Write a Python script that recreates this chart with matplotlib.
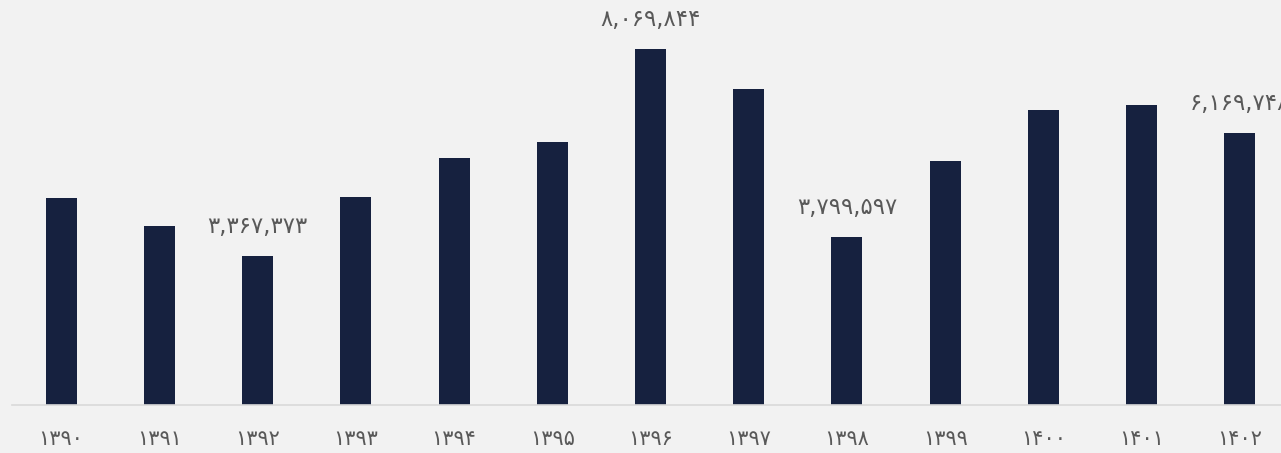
import matplotlib
matplotlib.use("Agg")
import matplotlib.pyplot as plt

years = ["۱۳۹۰", "۱۳۹۱", "۱۳۹۲", "۱۳۹۳", "۱۳۹۴", "۱۳۹۵", "۱۳۹۶",
         "۱۳۹۷", "۱۳۹۸", "۱۳۹۹", "۱۴۰۰", "۱۴۰۱", "۱۴۰۲"]
values = [4692000, 4058000, 3367373, 4715000, 5599000, 5962000, 8069844,
          7163000, 3799597, 5531000, 6687000, 6800000, 6169748]
labeled = [2, 6, 8, 12]

fa_digits = str.maketrans("0123456789", "۰۱۲۳۴۵۶۷۸۹")
def fa(n):
    return f"{n:,}".translate(fa_digits)

bg = "#F2F2F2"
bar_color = "#16213F"
text_color = "#595959"

fig = plt.figure(figsize=(12.81, 4.53), dpi=100, facecolor=bg)
ax = fig.add_axes([12/1281, 48/453, 1277/1281, 405/453])
ax.set_facecolor(bg)
x = list(range(len(years)))
ax.bar(x, values, width=0.315, color=bar_color, zorder=2)
ax.set_xlim(-0.5, len(years) - 0.5)
ax.set_ylim(0, 9.18e6)

for s in ["top", "right", "left"]:
    ax.spines[s].set_visible(False)
ax.spines["bottom"].set_color("#D9D9D9")
ax.spines["bottom"].set_linewidth(1.2)
ax.set_yticks([])
ax.set_xticks(x)
ax.set_xticklabels(years, fontsize=15, color=text_color, family="DejaVu Sans")
ax.tick_params(axis="x", length=0, pad=17)

for i in labeled:
    ax.annotate(fa(values[i]), (i, values[i]), xytext=(0, 13), textcoords="offset points",
                ha="center", va="bottom", fontsize=16.5, color=text_color,
                family="DejaVu Sans", annotation_clip=False)

fig.savefig("out.png", dpi=100, facecolor=bg)
